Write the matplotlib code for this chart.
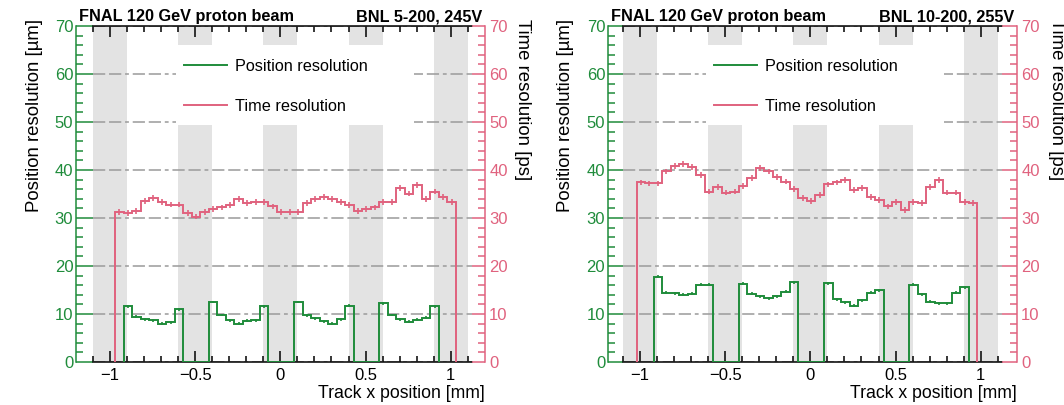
import numpy as np
import matplotlib.pyplot as plt
from matplotlib.lines import Line2D
from matplotlib.patches import Rectangle
from matplotlib.ticker import MultipleLocator

plt.rcParams['font.family'] = ['Liberation Sans', 'DejaVu Sans']

W, H = 1064, 405
green = '#1f8c3b'
red = '#e0627e'

# 0.05 mm bins
time_edges_5_200 = np.linspace(-0.97, 1.03, 41)
time_edges_10_200 = np.linspace(-1.02, 0.98, 41)
pos_edges = np.linspace(-0.92, 0.93, 38)

# metal strips (grey bands)
strips = [(-1.1, -0.9), (-0.6, -0.4), (-0.1, 0.1), (0.4, 0.6), (0.9, 1.1)]

time_5_200 = [31.3, 31.0, 31.5, 33.6, 34.1, 33.3, 32.8, 32.8, 31.0, 30.3,
              31.3, 31.9, 32.2, 32.7, 33.9, 33.1, 33.3, 33.3, 32.4, 31.3,
              31.2, 31.2, 33.1, 33.9, 34.4, 33.9, 33.3, 32.7, 31.5, 31.9,
              32.2, 33.3, 33.4, 36.2, 35.1, 36.9, 33.9, 35.5, 34.4, 33.3]
pos_5_200 = [11.6, 9.4, 8.9, 8.7, 8.0, 8.3, 11.0, 0, 0, 0,
             12.5, 9.8, 8.7, 8.0, 8.6, 8.7, 11.6, 0, 0, 0,
             12.5, 9.7, 9.1, 8.5, 8.0, 8.9, 11.7, 0, 0, 0,
             12.2, 9.8, 8.9, 8.4, 8.8, 9.2, 11.6]

time_10_200 = [37.4, 37.2, 37.2, 39.7, 40.8, 41.3, 40.7, 39.0, 35.5, 36.5,
               35.3, 35.5, 36.7, 38.3, 40.4, 39.7, 38.6, 37.6, 36.0, 34.1,
               33.6, 34.8, 37.0, 37.4, 37.9, 35.8, 36.2, 34.4, 33.8, 32.4,
               33.4, 31.7, 33.4, 33.1, 36.5, 37.9, 35.3, 35.3, 33.4, 33.1]
pos_10_200 = [17.8, 14.4, 14.3, 14.0, 14.2, 16.1, 16.1, 0, 0, 0,
              16.3, 14.2, 13.7, 13.3, 13.7, 14.6, 16.6, 0, 0, 0,
              16.4, 13.1, 12.4, 11.7, 12.9, 14.4, 14.9, 0, 0, 0,
              16.1, 14.1, 12.6, 12.2, 12.2, 14.4, 15.6]
t_err = 0.6
p_err = 0.3

fig = plt.figure(figsize=(W / 100, H / 100), dpi=100)


def panel(x0, x1, t_edges, t_vals, p_vals, sensor, off_l, off_r, ylab_x, ylab2_x):
    ax = fig.add_axes([x0 / W, 1 - 362 / H, (x1 - x0) / W, 336 / H])
    ax.set_xlim(-1.1, 1.125)
    ax.set_ylim(0, 70)

    for lo, hi in strips:
        ax.axvspan(lo, hi, color='#e3e3e3', lw=0, zorder=0.5)
    ax.grid(axis='y', color='#9a9a9a', lw=1.1, ls=(0, (8, 2.5, 8, 2.5, 2.5, 2.5)))
    ax.add_patch(Rectangle((-0.615, 49.4), 1.4, 16.6, facecolor='white',
                           edgecolor='none', zorder=2))

    t_vals = np.array(t_vals)
    p_vals = np.array(p_vals)
    ax.stairs(t_vals, t_edges, baseline=0, color=red, lw=1.4, zorder=3)
    ax.errorbar((t_edges[:-1] + t_edges[1:]) / 2, t_vals, yerr=t_err, fmt='none',
                ecolor=red, elinewidth=1.2, zorder=3)
    ax.stairs(p_vals, pos_edges, baseline=0, color=green, lw=1.4, zorder=3)
    pc = (pos_edges[:-1] + pos_edges[1:]) / 2
    m = p_vals > 0
    ax.errorbar(pc[m], p_vals[m], yerr=p_err, fmt='none', ecolor=green,
                elinewidth=1.2, zorder=3)

    handles = [Line2D([], [], color=green, lw=1.4), Line2D([], [], color=red, lw=1.4)]
    ax.legend(handles, ['Position resolution', 'Time resolution'], loc='upper left',
              bbox_to_anchor=(-0.565, 63.2), bbox_transform=ax.transData,
              frameon=False, fontsize=11.7, handlelength=2.65, handletextpad=0.5,
              labelspacing=1.56, borderpad=0, borderaxespad=0)

    # x axis
    ax.xaxis.set_minor_locator(MultipleLocator(0.1))
    ax.set_xticks([-1, -0.5, 0, 0.5, 1])
    ax.set_xticklabels(['\u22121', '\u22120.5', '0', '0.5', '1'])
    ax.tick_params(axis='x', which='both', direction='in', top=True, bottom=True,
                   width=1.1, labelsize=12, pad=4)
    ax.tick_params(axis='x', which='major', length=8)
    ax.tick_params(axis='x', which='minor', length=4.5)

    # left (green) axis
    ax.spines['right'].set_visible(False)
    ax.spines['left'].set_position(('outward', off_l))
    ax.spines['left'].set_color(green)
    for s in ['left', 'top', 'bottom']:
        ax.spines[s].set_linewidth(1.1)
    ax.yaxis.set_major_locator(MultipleLocator(10))
    ax.yaxis.set_minor_locator(MultipleLocator(2))
    ax.tick_params(axis='y', which='both', direction='in', color=green,
                   labelcolor=green, width=1.1, labelsize=12, pad=2)
    ax.tick_params(axis='y', which='major', length=off_l)
    ax.tick_params(axis='y', which='minor', length=4.8)

    # right (red) axis
    ax2 = ax.twinx()
    ax2.set_ylim(0, 70)
    for s in ['left', 'top', 'bottom']:
        ax2.spines[s].set_visible(False)
    ax2.spines['right'].set_position(('outward', off_r))
    ax2.spines['right'].set_color(red)
    ax2.spines['right'].set_linewidth(1.1)
    ax2.yaxis.set_major_locator(MultipleLocator(10))
    ax2.yaxis.set_minor_locator(MultipleLocator(2))
    ax2.tick_params(axis='y', which='both', direction='in', color=red,
                    labelcolor=red, width=1.1, labelsize=12, pad=3)
    ax2.tick_params(axis='y', which='major', length=off_r)
    ax2.tick_params(axis='y', which='minor', length=4.8)

    # texts
    left_px = x0 - off_l / 0.72
    right_px = x1 + off_r / 0.72
    fig.text((left_px + 3) / W, 1 - 21 / H, 'FNAL 120 GeV proton beam',
             fontsize=11.7, fontweight='bold', ha='left', va='baseline')
    fig.text((right_px - 3) / W, 1 - 21 / H, sensor,
             fontsize=11.7, fontweight='bold', ha='right', va='baseline')
    fig.text(right_px / W, 1 - 398 / H, 'Track x position [mm]',
             fontsize=12.7, ha='right', va='baseline')
    fig.text(ylab_x / W, 1 - 19 / H, 'Position resolution [\u00b5m]',
             fontsize=13.4, rotation=90, ha='center', va='top')
    fig.text(ylab2_x / W, 1 - 19 / H, 'Time resolution [ps]',
             fontsize=13.4, rotation=-90, ha='center', va='top')


panel(93, 472, time_edges_5_200, time_5_200, pos_5_200, 'BNL 5-200, 245V',
      12.2, 9.4, 35, 523)
panel(623, 1002, time_edges_10_200, time_10_200, pos_10_200, 'BNL 10-200, 255V',
      10.8, 10.8, 565, 1057)

fig.savefig('out.png', dpi=100)
